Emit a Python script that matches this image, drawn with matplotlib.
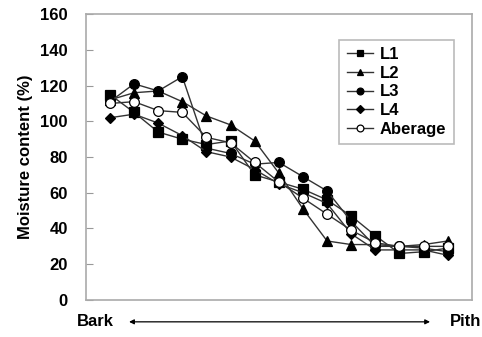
import numpy as np
import matplotlib
matplotlib.use('Agg')
import matplotlib.pyplot as plt

# moisture content (%) at 15 positions, bark -> pith
pos = list(range(15))
L1 = [115, 105, 94, 90, 87, 89, 70, 66, 62, 56, 47, 36, 26, 27, 29]
L2 = [112, 116, 117, 111, 103, 98, 89, 71, 51, 33, 31, 31, 30, 31, 33]
L3 = [111, 121, 117, 125, 85, 82, 76, 77, 69, 61, 44, 30, 30, 29, 27]
L4 = [102, 104, 99, 92, 83, 80, 73, 65, 60, 54, 37, 28, 28, 28, 25]
avg = [110, 111, 106, 105, 91, 88, 77, 66, 57, 48, 39, 32, 30, 30, 30]

series = [('L1', L1, 's', 'k'), ('L2', L2, '^', 'k'), ('L3', L3, 'o', 'k'),
          ('L4', L4, 'D', 'k'), ('Aberage', avg, 'o', 'white')]
msize = {'s': 6.5, '^': 6.5, 'o': 7, 'D': 5.5}

plt.rcParams['font.family'] = 'Liberation Sans'
plt.rcParams['font.weight'] = 'bold'

fig = plt.figure(figsize=(4.82, 3.37), dpi=100)
ax = fig.add_axes([0.178, 0.110, 0.801, 0.848])

for name, vals, m, fc in series:
    ax.plot(pos, vals, color='#333333', lw=1.0, marker=m, ms=msize[m],
            mfc=fc, mec='black', mew=0.9, label=name)

ax.set_xlim(-1, 15)
ax.set_ylim(0, 160)
ax.set_yticks(range(0, 161, 20))
ax.set_xticks([])
ax.tick_params(axis='y', direction='in', length=5, width=0.8, color='#999999',
               labelsize=12, pad=13)
for t in ax.get_yticklabels():
    t.set_fontweight('bold')
for s in ax.spines.values():
    s.set_color('#aaaaaa')
    s.set_linewidth(1.2)

ax.set_ylabel('Moisture content (%)', fontsize=12, fontweight='bold', labelpad=5)

leg = ax.legend(loc='upper right', bbox_to_anchor=(0.975, 0.94), fontsize=12,
                frameon=True, fancybox=False, handlelength=1.6, handletextpad=0.4,
                borderpad=0.45, labelspacing=0.22, markerscale=0.7)
leg.get_frame().set_edgecolor('#aaaaaa')
leg.get_frame().set_linewidth(1.2)
for t in leg.get_texts():
    t.set_fontweight('bold')

# bark / pith annotation below the axis
fig.text(0.160, 0.045, 'Bark', fontsize=12, fontweight='bold', va='center', ha='left')
fig.text(0.998, 0.045, 'Pith', fontsize=12, fontweight='bold', va='center', ha='right')
fig.add_artist(matplotlib.patches.FancyArrowPatch((0.262, 0.045), (0.898, 0.045),
               transform=fig.transFigure, arrowstyle='<|-|>', mutation_scale=7,
               color='black', lw=0.9))

fig.savefig('out.png', dpi=100)
